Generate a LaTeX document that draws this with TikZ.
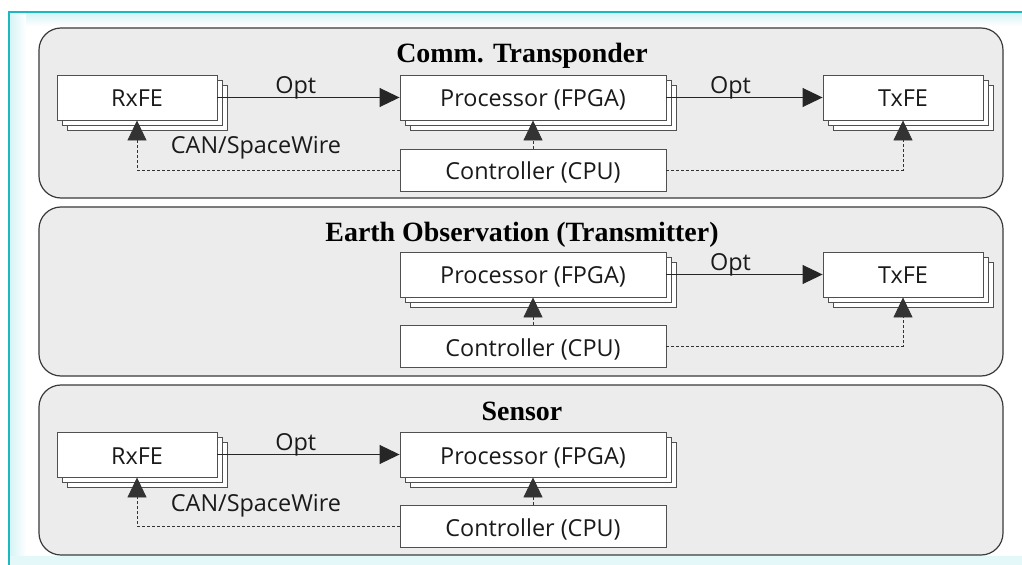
\documentclass[tikz,border=0pt]{standalone}
\usepackage{fontspec}
\setmainfont{Open Sans}
\newfontfamily\titlefont{Liberation Serif}
\usetikzlibrary{arrows.meta,shadows}

\definecolor{frameteal}{HTML}{1CB8C1}
\definecolor{framehaze}{HTML}{D4F3F5}
\definecolor{panelfill}{HTML}{ECECEC}
\definecolor{panelline}{HTML}{3A3A3A}
\definecolor{boxline}{HTML}{505050}
\definecolor{labeltext}{HTML}{1A1A1A}

\begin{document}
\begin{tikzpicture}[x=1bp,y=-1bp,
  panel/.style={draw=panelline, line width=1.2bp, fill=panelfill,
    rounded corners=22bp, inner sep=0pt},
  unit/.style={draw=boxline, line width=0.9bp, fill=white, inner sep=0pt,
    text height=19bp, text depth=0bp,
    text=labeltext, font=\fontsize{23.5}{26}\selectfont},
  stack/.style={unit,
    copy shadow={shadow xshift=10bp, shadow yshift=-10bp, draw=boxline, line width=0.9bp},
    copy shadow={shadow xshift=5bp, shadow yshift=-5bp, draw=boxline, line width=0.9bp}},
  frontend/.style={stack, minimum width=160bp, minimum height=45bp},
  fpga/.style={stack, minimum width=266bp, minimum height=45bp},
  cpu/.style={unit, minimum width=266bp, minimum height=42bp},
  paneltitle/.style={anchor=base, inner sep=0pt,
    font=\titlefont\bfseries\fontsize{28}{32}\selectfont},
  optarrow/.style={draw=black!85, line width=0.9bp,
    -{Triangle[length=20bp,width=19bp]}},
  busarrow/.style={draw=black!80, line width=0.8bp, dash pattern=on 3bp off 2bp,
    -{Triangle[length=20bp,width=19bp]}},
  optlabel/.style={anchor=base, yshift=4bp, inner sep=0pt, text=labeltext,
    font=\fontsize{23.5}{26}\selectfont},
  buslabel/.style={anchor=base, inner sep=0pt, text=labeltext,
    font=\fontsize{23.5}{26}\selectfont}
]
\useasboundingbox (0,0) rectangle (1022,565);

% outer frame with a soft inner glow
\fill[white] (0,0) rectangle (1022,565);
\shade[top color=framehaze, bottom color=white] (9,13) rectangle (1022,26);
\shade[left color=framehaze, right color=white] (9,13) rectangle (26,565);
\fill[framehaze!60] (9,556) rectangle (1022,565);
\draw[frameteal, line width=2bp] (9,565) -- (9,12) -- (1022,12);

% three application panels
\node[panel, minimum width=964bp, minimum height=170bp] (pan1) at (521,113) {};
\node[panel, minimum width=964bp, minimum height=169bp] (pan2) at (521,291.5) {};
\node[panel, minimum width=964bp, minimum height=170bp] (pan3) at (521,470) {};

\node[paneltitle] (t1) at (522,63) {Comm. Transponder};
\node[paneltitle] (t2) at (522,242) {Earth Observation (Transmitter)};
\node[paneltitle] (t3) at (522,420) {Sensor};

% --- Comm. Transponder ---
\node[frontend] (rx1) at (137,97.5) {RxFE};
\node[fpga] (pr1) at (533,97.5) {Processor (FPGA)};
\node[frontend] (tx1) at (903,97.5) {TxFE};
\node[cpu] (cp1) at (533,170) {Controller (CPU)};

\draw[optarrow] (rx1.east) -- node[optlabel, pos=.43] {Opt} (pr1.west);
\draw[optarrow] (pr1.east) -- node[optlabel, pos=.41] {Opt} (tx1.west);
\draw[busarrow] (cp1.north) -- (pr1.south);
\draw[busarrow] (cp1.west) -| (rx1.south);
\draw[busarrow] (cp1.east) -| (tx1.south);
\node[buslabel] (bl1) at (256,154) {CAN/SpaceWire};

% --- Earth Observation (Transmitter) ---
\node[fpga] (pr2) at (533,274.5) {Processor (FPGA)};
\node[frontend] (tx2) at (903,274.5) {TxFE};
\node[cpu] (cp2) at (533,346.5) {Controller (CPU)};

\draw[optarrow] (pr2.east) -- node[optlabel, pos=.41] {Opt} (tx2.west);
\draw[busarrow] (cp2.north) -- (pr2.south);
\draw[busarrow] (cp2.east) -| (tx2.south);

% --- Sensor ---
\node[frontend] (rx3) at (137,454.5) {RxFE};
\node[fpga] (pr3) at (533,454.5) {Processor (FPGA)};
\node[cpu] (cp3) at (533,526.5) {Controller (CPU)};

\draw[optarrow] (rx3.east) -- node[optlabel, pos=.43] {Opt} (pr3.west);
\draw[busarrow] (cp3.north) -- (pr3.south);
\draw[busarrow] (cp3.west) -| (rx3.south);
\node[buslabel] (bl3) at (256,511) {CAN/SpaceWire};
\end{tikzpicture}
\end{document}
